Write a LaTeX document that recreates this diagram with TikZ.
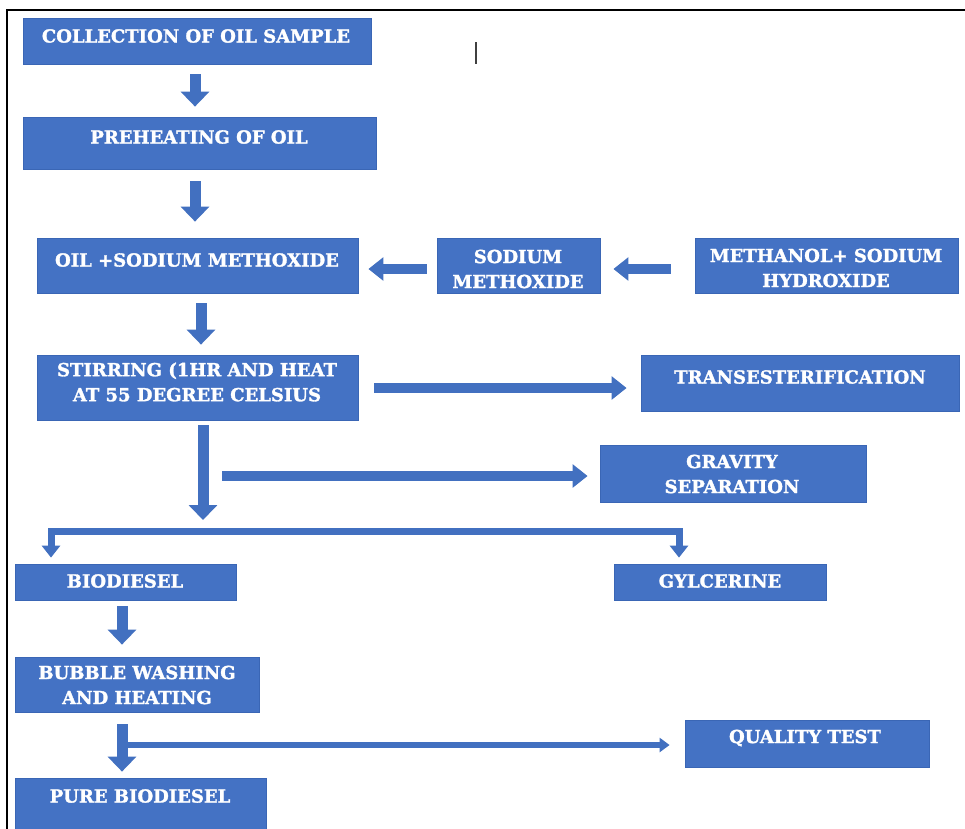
\documentclass[tikz,border=0pt]{standalone}
\usepackage{fontspec}
\setmainfont{DejaVu Serif}[BoldFeatures={FakeBold=1.6}]
\usetikzlibrary{arrows.meta,fit}
\definecolor{boxblue}{HTML}{4472C4}
\definecolor{edgeblue}{HTML}{3A66B5}
\definecolor{arrblue}{HTML}{4270C0}
\begin{document}
\begin{tikzpicture}[x=0.75pt,y=-0.75pt,
  box/.style={draw=edgeblue,fill=boxblue,line width=0.6pt,inner sep=0pt},
  lbl/.style={text=white,font=\bfseries\fontsize{13.5}{18.75}\selectfont,align=center,inner sep=0pt},
  darr/.style={draw=arrblue,line width=8.25pt,-{Triangle[width=21pt,length=11.25pt]}},
  harr/.style={draw=arrblue,line width=7.5pt,-{Triangle[width=17pt,length=11.25pt]}},
  splitarr/.style={draw=arrblue,line width=5.25pt,line join=miter,{Triangle[width=13.5pt,length=9pt]}-{Triangle[width=13.5pt,length=9pt]}},
  thinarr/.style={draw=arrblue,line width=4.5pt,-{Triangle[width=10.5pt,length=7.5pt]}}]
\useasboundingbox (0,0) rectangle (965,829);
\clip (0,0) rectangle (965,829);
\fill[white] (0,0) rectangle (965,829);
% frame
\draw[black,line width=1.4pt] (7,829) -- (7,10) -- (965,10);
% cursor mark
\draw[black!75,line width=1.3pt] (476,42) -- (476,64);
% helper coordinates
\coordinate (ax1) at (195,0);
\coordinate (ax3) at (201,0);
\coordinate (ax4) at (203,0);
\coordinate (ay1) at (0,269);
\coordinate (ay3) at (0,388);
\coordinate (split) at (203,520);
\coordinate (g0) at (222,476);
\coordinate (bar) at (365,531);
\coordinate (xl) at (51,0);
\coordinate (xr) at (679,0);
\coordinate (xb) at (122,0);
\coordinate (qa) at (124,745);
% boxes
\node[box,fit={(23,18) (371,64)}] (b1) {};
\node[box,fit={(23,117) (376,169)}] (b2) {};
\node[box,fit={(37,238) (358,293)}] (b3) {};
\node[box,fit={(437,238) (600,293)}] (b4) {};
\node[box,fit={(695,238) (958,293)}] (b5) {};
\node[box,fit={(37,355) (358,420)}] (b6) {};
\node[box,fit={(641,355) (959,411)}] (b7) {};
\node[box,fit={(600,445) (866,502)}] (b8) {};
\node[box,fit={(15,564) (236,600)}] (b9) {};
\node[box,fit={(614,564) (826,600)}] (b10) {};
\node[box,fit={(15,657) (259,712)}] (b11) {};
\node[box,fit={(685,720) (929,767)}] (b12) {};
\node[box,fit={(15,778) (266,840)}] (b13) {};
% labels
\node[lbl] (t1) at (196,36) {COLLECTION OF OIL SAMPLE};
\node[lbl] (t2) at (199,137) {PREHEATING OF OIL};
\node[lbl] (t3) at (197,260) {OIL +SODIUM METHOXIDE};
\node[lbl] (t4) at (518,269) {SODIUM\\METHOXIDE};
\node[lbl] (t5) at (826,268) {METHANOL+ SODIUM\\HYDROXIDE};
\node[lbl] (t6) at (197,382) {STIRRING (1HR AND HEAT\\AT 55 DEGREE CELSIUS};
\node[lbl] (t7) at (800,377) {TRANSESTERIFICATION};
\node[lbl] (t8) at (732,474) {GRAVITY\\SEPARATION};
\node[lbl] (t9) at (125,581) {BIODIESEL};
\node[lbl] (t10) at (720,581) {GYLCERINE};
\node[lbl] (t11) at (137,685) {BUBBLE WASHING\\AND HEATING};
\node[lbl] (t12) at (805,738) {QUALITY TEST};
\node[lbl] (t13) at (140,796) {PURE BIODIESEL};
% connectors
\draw[darr,shorten <=7.5pt,shorten >=7.5pt] (b1.south -| ax1) -- (b2.north -| ax1);
\draw[darr,shorten <=9pt,shorten >=12pt] (b2.south -| ax1) -- (b3.north -| ax1);
\draw[darr,shorten <=7.5pt,shorten >=7.5pt] (b3.south -| ax3) -- (b6.north -| ax3);
\draw[harr,shorten <=7.5pt,shorten >=7.5pt] (b4.west |- ay1) -- (b3.east |- ay1);
\draw[harr,shorten <=18pt,shorten >=9.75pt] (b5.west |- ay1) -- (b4.east |- ay1);
\draw[harr,shorten <=12pt,shorten >=10.5pt] (b6.east |- ay3) -- (b7.west |- ay3);
\draw[darr,shorten <=3.75pt] (b6.south -| ax4) -- (split);
\draw[harr] (g0) -- ([xshift=-9pt]b8.west |- g0);
\draw[splitarr,shorten <=4.5pt,shorten >=4.5pt] (b9.north -| xl) |- (bar) -| (b10.north -| xr);
\draw[darr,shorten <=4.5pt,shorten >=9pt] (b9.south -| xb) -- (b11.north -| xb);
\draw[darr,shorten <=9pt,shorten >=4.5pt] (b11.south -| xb) -- (b13.north -| xb);
\draw[thinarr,shorten >=11.25pt] (qa) -- (b12.west |- qa);
\end{tikzpicture}
\end{document}
